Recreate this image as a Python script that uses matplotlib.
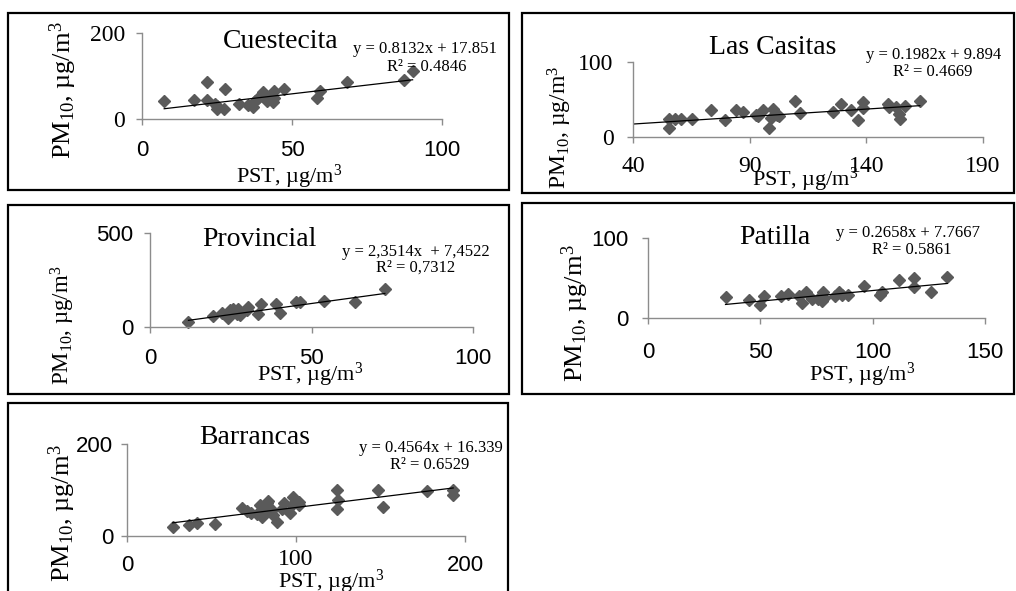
import matplotlib
matplotlib.use("Agg")
import matplotlib.pyplot as plt
from matplotlib.patches import Rectangle
from matplotlib.transforms import ScaledTranslation

plt.rcParams['mathtext.fontset'] = 'custom'
plt.rcParams['mathtext.rm'] = 'Liberation Serif'
plt.rcParams['mathtext.it'] = 'Liberation Serif:italic'

SERIF = 'Liberation Serif'
SANS = 'Liberation Sans'
W, H = 1016, 591

# --- data (PST vs PM10, ug/m3) ---
cue_pst = [7.4, 17.3, 21.6, 21.6, 24.3, 24.9, 25.1, 27.4, 27.8, 32.3, 35.4, 36.9, 37.7,
           38.8, 40.2, 41.0, 41.6, 43.8, 44.1, 44.1, 47.4, 58.4, 59.3, 68.2, 87.3, 90.2]
cue_pm10 = [42, 45, 85, 45, 35, 23, 30, 23, 70, 35, 33, 29, 42,
            50, 62, 55, 42, 40, 65, 48, 70, 50, 64, 85, 91, 111]

cas_pst = [55.4, 55.4, 57.9, 60.7, 65.3, 73.6, 79.3, 84.3, 87.1, 92.9, 93.6, 95.7, 98.3,
           99.3, 99.8, 101.5, 102.5, 109.6, 111.4, 125.7, 129.0, 133.6, 136.4, 138.6,
           138.6, 149.3, 149.7, 152.9, 154.0, 154.6, 156.4, 162.9]
cas_pm10 = [24, 12, 24, 24, 24, 36, 23, 36, 34, 30, 28, 36, 12,
            26, 38, 30, 29, 49, 32, 34, 45, 36, 23, 47,
            39, 45, 40, 41, 31, 24, 42, 49]

pro_pst = [11.9, 19.6, 22.2, 24.2, 24.7, 25.8, 26.8, 27.3, 27.8, 29.9, 30.4, 33.5, 34.5,
           39.0, 40.2, 45.2, 46.4, 53.9, 63.4, 72.7]
pro_pm10 = [27, 59, 77, 48, 89, 98, 71, 98, 66, 89, 107, 71, 120,
            120, 75, 131, 131, 138, 131, 202]

pat_pst = [34.5, 44.9, 49.8, 51.7, 59.4, 62.4, 67.2, 68.4, 70.3, 72.8, 75.8, 77.5, 78.0,
           78.3, 83.2, 85.0, 86.2, 88.8, 96.3, 103.3, 104.3, 111.9, 118.5, 118.5, 126.0, 133.2]
pat_pm10 = [26, 23, 16.5, 27, 28, 30, 27, 18.6, 32, 23.5, 23.5, 21, 33,
            25, 28, 33, 29, 29, 40, 29, 33, 47, 50, 39, 33, 51.6]

bar_pst = [27.0, 36.4, 41.4, 52.2, 68.3, 70.9, 73.3, 76.8, 78.8, 79.8, 81.3, 82.1, 82.7,
           83.7, 85.7, 88.7, 86.6, 91.6, 93.0, 96.5, 97.5, 98.1, 101.8, 101.8, 124.1,
           124.5, 125.0, 148.3, 151.7, 177.3, 193.0, 193.0]
bar_pm10 = [20, 23, 29, 26, 60, 54, 51, 47, 67, 42, 51, 64, 71,
            76, 56, 31, 45, 58, 71, 49, 67, 85, 75, 67, 99,
            58, 78, 100, 63, 98, 101, 89]

# trendline coefficients printed on each panel and the x span it covers
cue_fit = (0.8132, 17.851, 7.4, 90.2)
cas_fit = (0.1982, 9.894, 40.0, 162.9)
pro_fit = (2.3514, 7.4522, 11.9, 72.7)
pat_fit = (0.2658, 7.7667, 34.5, 133.2)
bar_fit = (0.4564, 16.339, 27.0, 193.0)

ylab = r'PM$_{10}$, µg/m$^3$'
xlab = r'PST, µg/m$^3$'

panels = [
    dict(name='Cuestecita', x=cue_pst, y=cue_pm10, fit=cue_fit,
         eq='y = 0.8132x + 17.851', r2='R² = 0.4846',
         xlim=(0, 100), xticks=[0, 50, 100], ylim=(0, 200),
         box=(8, 13, 509, 190), ax=(142, 33, 442, 119),
         title=(281, 42), eqpos=(425, 49), r2pos=(427, 67),
         ylabpos=(63, 90), ylabsize=19, xlabpos=(289, 177),
         xfont=SANS, yfont=SERIF, xpad=11, ypad=8),
    dict(name='Las Casitas', x=cas_pst, y=cas_pm10, fit=cas_fit,
         eq='y = 0.1982x + 9.894', r2='R² = 0.4669',
         xlim=(40, 190), xticks=[40, 90, 140, 190], ylim=(0, 100),
         box=(522, 13, 1014, 193), ax=(633, 62, 983, 137.5),
         title=(773, 48), eqpos=(934, 55), r2pos=(933, 72),
         ylabpos=(560, 127), ylabsize=17, xlabpos=(805, 180),
         xfont=SERIF, yfont=SERIF, xpad=9, ypad=10),
    dict(name='Provincial', x=pro_pst, y=pro_pm10, fit=pro_fit,
         eq='y = 2,3514x  + 7,4522', r2='R² = 0,7312',
         xlim=(0, 100), xticks=[0, 50, 100], ylim=(0, 500),
         box=(8, 205, 509, 394), ax=(150, 233, 473, 327),
         title=(259, 240), eqpos=(416, 252), r2pos=(416, 268),
         ylabpos=(63, 325), ylabsize=16.5, xlabpos=(310, 375),
         xfont=SANS, yfont=SANS, xpad=11, ypad=8),
    dict(name='Patilla', x=pat_pst, y=pat_pm10, fit=pat_fit,
         eq='y = 0.2658x + 7.7667', r2='R² = 0.5861',
         xlim=(0, 150), xticks=[0, 50, 100, 150], ylim=(0, 100),
         box=(522, 203, 1014, 394), ax=(648, 238, 985, 318),
         title=(775, 238), eqpos=(908, 233), r2pos=(912, 250),
         ylabpos=(575, 313), ylabsize=19, xlabpos=(862, 375),
         xfont=SANS, yfont=SANS, xpad=13, ypad=10),
    dict(name='Barrancas', x=bar_pst, y=bar_pm10, fit=bar_fit,
         eq='y = 0.4564x + 16.339', r2='R² = 0.6529',
         xlim=(0, 200), xticks=[0, 100, 200], ylim=(0, 200),
         box=(8, 403, 508, 600), ax=(127, 444, 465, 536),
         title=(255, 438), eqpos=(431, 448), r2pos=(430, 465),
         ylabpos=(62, 513), ylabsize=19, xlabpos=(331, 582),
         xfont=SANS, yfont=SANS, xpad=10, ypad=6),
]

fig = plt.figure(figsize=(W / 100, H / 100), dpi=100)

def fpt(x, y):
    return x / W, 1 - y / H

axis_gray = '#8c8c8c'
tick_size = {SERIF: 17, SANS: 16}

for p in panels:
    l, t, r, b = p['box']
    fig.patches.append(Rectangle((l / W, 1 - b / H), (r - l) / W, (b - t) / H,
                                 transform=fig.transFigure, fill=False,
                                 edgecolor='black', linewidth=1.6))
    l, t, r, b = p['ax']
    ax = fig.add_axes([l / W, 1 - b / H, (r - l) / W, (b - t) / H])
    ax.patch.set_alpha(0)
    ax.plot(p['x'], p['y'], 'D', color='#5a5a5a', markersize=6, clip_on=False)
    k, c, x0, x1 = p['fit']
    ax.plot([x0, x1], [k * x0 + c, k * x1 + c], color='black', linewidth=0.9)
    ax.set_xlim(*p['xlim'])
    ax.set_ylim(*p['ylim'])
    ax.set_xticks(p['xticks'])
    ax.set_yticks(list(p['ylim']))
    for s in ['top', 'right']:
        ax.spines[s].set_visible(False)
    for s in ['left', 'bottom']:
        ax.spines[s].set_color(axis_gray)
        ax.spines[s].set_linewidth(1.0)
    ax.tick_params(axis='both', direction='out', length=4, width=1.0, color=axis_gray,
                   labelcolor='black')
    ax.tick_params(axis='x', pad=p['xpad'])
    ax.tick_params(axis='y', pad=p['ypad'])
    for lab in ax.get_xticklabels():
        lab.set_fontfamily(p['xfont'])
        lab.set_fontsize(tick_size[p['xfont']])
    for lab in ax.get_yticklabels():
        lab.set_fontfamily(p['yfont'])
        lab.set_fontsize(tick_size[p['yfont']])
    if p['name'] == 'Barrancas':
        mid = ax.get_xticklabels()[1]
        mid.set_fontfamily(SERIF)
        mid.set_fontsize(tick_size[SERIF])
        mid.set_transform(mid.get_transform() + ScaledTranslation(0, 6 / 100, fig.dpi_scale_trans))

    fig.text(*fpt(*p['title']), p['name'], fontsize=20, family=SERIF,
             ha='center', va='center')
    fig.text(*fpt(*p['eqpos']), p['eq'], fontsize=12, family=SERIF,
             ha='center', va='center')
    fig.text(*fpt(*p['r2pos']), p['r2'], fontsize=12, family=SERIF,
             ha='center', va='center')
    fig.text(*fpt(*p['ylabpos']), ylab, fontsize=p['ylabsize'], family=SERIF,
             rotation=90, ha='center', va='center')
    fig.text(*fpt(*p['xlabpos']), xlab, fontsize=16, family=SERIF,
             ha='center', va='center')

fig.savefig('out.png', dpi=100)
